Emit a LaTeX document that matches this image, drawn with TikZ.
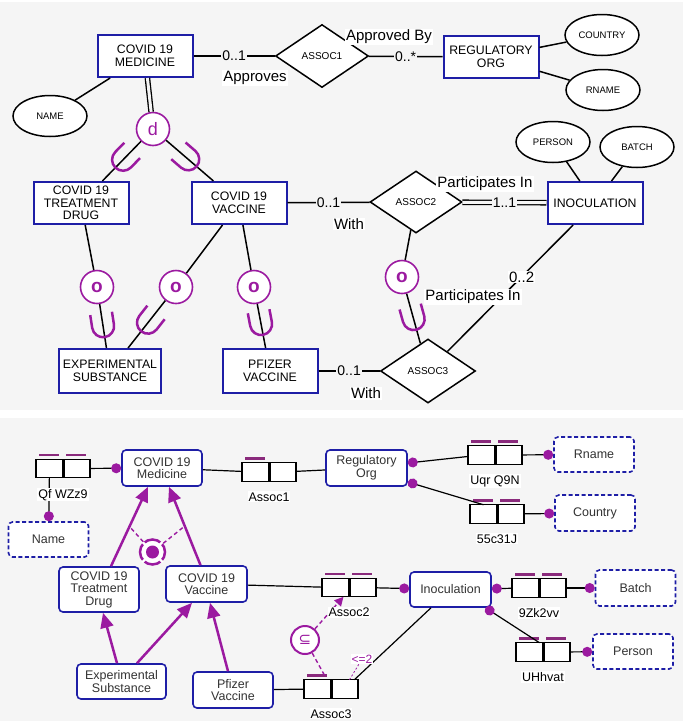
\documentclass[tikz,border=0pt]{standalone}
\usepackage{fontspec}
\setmainfont{Liberation Sans}
\newfontfamily\symfont{DejaVu Sans}
\usepackage{tikz}
\usetikzlibrary{arrows.meta,positioning,shapes.geometric,decorations.markings}
\definecolor{ormblue}{HTML}{1E1EA6}
\definecolor{ormpurple}{HTML}{9B1AA0}
\definecolor{barpurple}{HTML}{8A2A7C}
\definecolor{panelgray}{HTML}{F5F5F5}
\definecolor{textgray}{HTML}{333333}
\tikzset{
    ent/.style={draw=ormblue, line width=2pt, fill=white, minimum width=95pt, minimum height=42pt, inner sep=0pt, align=center, font=\fontsize{12.3}{12.5}\selectfont},
    rel/.style={diamond, draw, line width=1.5pt, fill=white, minimum width=93pt, minimum height=63pt, inner sep=0pt, font=\fontsize{10}{10}\selectfont},
    attr/.style={ellipse, draw, line width=1.5pt, fill=white, minimum width=74pt, minimum height=41pt, inner sep=0pt, font=\fontsize{9.5}{10}\selectfont},
    gen/.style={circle, draw=ormpurple, line width=1.6pt, fill=white, minimum size=33pt, inner sep=0pt, text=ormpurple},
    conn/.style={line width=1.5pt},
    twin/.style={line width=1.3pt, double=panelgray, double distance=3pt},
    mult/.style={fill=panelgray, inner sep=1pt, font=\fontsize{14}{14}\selectfont},
    role/.style={fill=white, inner sep=1pt, font=\fontsize{15}{15}\selectfont},
    subcup/.style={postaction={decorate, decoration={markings, mark=at position #1 with {\draw[ormpurple, line width=2.5pt] (-15pt,11pt) -- (-2pt,11pt) arc[start angle=90, end angle=-90, radius=11pt] -- (-15pt,-11pt);}}}},
    ent2/.style={rounded corners=4pt, draw=ormblue, line width=1.6pt, fill=white, minimum width=80pt, minimum height=36pt, inner sep=0pt, align=center, text=textgray, font=\fontsize{12.5}{12.5}\selectfont},
    val/.style={ent2, dash pattern=on 4pt off 2.5pt},
    cell/.style={draw, line width=1.4pt, fill=white, minimum width=27pt, minimum height=18.5pt, inner sep=0pt, outer sep=0pt},
    divider/.style={line width=3pt},
    keybar/.style={barpurple, line width=2.5pt},
    flabel/.style={fill=white, inner sep=1pt, font=\fontsize{12.5}{12.5}\selectfont},
    link/.style={line width=1.2pt},
    dotend/.style={-{Circle[length=10pt, color=ormpurple]}},
    dotstart/.style={{Circle[length=10pt, color=ormpurple]}-},
    subarrow/.style={ormpurple, line width=2.5pt, -{Triangle[length=15pt, width=13pt]}},
    xordash/.style={ormpurple, line width=1.4pt, dash pattern=on 4pt off 3pt},
    xorc/.style={circle, draw=ormpurple, line width=2.5pt, fill=white, minimum size=25pt, inner sep=0pt},
    subc/.style={circle, draw=ormpurple, line width=2pt, fill=white, minimum size=28pt, inner sep=0pt, text=ormpurple, font=\symfont\fontsize{15}{15}\selectfont},
    limtext/.style={fill=white, inner sep=1pt, text=ormpurple, font=\fontsize{12}{12}\selectfont}
}
\begin{document}
\begin{tikzpicture}[x=1pt, y=-1pt]
    \useasboundingbox (0,0) rectangle (685,721);
    \fill[white] (0,0) rectangle (685,721);
    \fill[panelgray] (0,2) rectangle (683,410);
    \fill[panelgray] (0,418) rectangle (683,721);

    \node[ent] (med) at (145,56) {COVID 19\\MEDICINE};
    \node[ent] (reg) at (491,57) {REGULATORY\\ORG};
    \node[ent] (drug) at (81,203) {COVID 19\\TREATMENT\\DRUG};
    \node[ent] (vac) at (239,203) {COVID 19\\VACCINE};
    \node[ent] (inoc) at (595,203) {INOCULATION};
    \node[ent, minimum width=102pt, minimum height=44pt] (exp) at (110,371) {EXPERIMENTAL\\SUBSTANCE};
    \node[ent, minimum height=44pt] (pfz) at (270,371) {PFIZER\\VACCINE};
    \node[rel] (as1) at (322,56) {ASSOC1};
    \node[rel, minimum width=92pt, minimum height=62pt] (as2) at (416,202) {ASSOC2};
    \node[rel, minimum width=95pt, minimum height=64pt] (as3) at (428,371) {ASSOC3};
    \node[attr] (name) at (50,116) {NAME};
    \node[attr] (country) at (602,35) {COUNTRY};
    \node[attr] (rname) at (603,90) {RNAME};
    \node[attr] (person) at (553,142) {PERSON};
    \node[attr] (batch) at (637,147) {BATCH};
    \node[gen, font=\fontsize{18}{18}\selectfont] (d) at (153,129) {d};
    \foreach \nm/\px/\py in {o1/97/287, o2/176/287, o3/254/287, o4/402/277}
        \node[gen, font=\bfseries\fontsize{19}{19}\selectfont] (\nm) at (\px,\py) {o};

    \draw[conn] (name) -- (med);
    \draw[conn] (med) -- node[mult] {0..1} (as1);
    \draw[conn] (as1) -- node[mult] {0..*} (reg);
    \draw[conn] (reg) -- (country);
    \draw[conn] (reg) -- (rname);
    \draw[twin] (med) -- (d);
    \draw[conn, subcup=0.5] (d) -- (drug);
    \draw[conn, subcup=0.5] (d) -- (vac);
    \draw[conn] (drug) -- (o1);
    \draw[conn, subcup=0.55] (o1) -- (exp);
    \draw[conn] (vac) -- (o2);
    \draw[conn, subcup=0.5] (o2) -- (exp);
    \draw[conn] (vac) -- (o3);
    \draw[conn, subcup=0.5] (o3) -- (pfz);
    \draw[conn] (vac) -- node[mult] {0..1} (as2);
    \draw[twin] (as2) -- node[mult] {1..1} (inoc);
    \draw[conn] (person) -- (inoc);
    \draw[conn] (batch) -- (inoc);
    \draw[conn] (as2) -- (o4);
    \draw[conn, subcup=0.55] (o4) -- (as3);
    \draw[conn] (pfz) -- node[mult] {0..1} (as3);
    \draw[conn] (inoc) -- node[role, pos=0.41] {0..2} (as3);
    \node[role] (apv) at (255,78) {Approves};
    \node[role] (apvby) at (389,37) {Approved By};
    \node[role] (with1) at (349,224) {With};
    \node[role] (part1) at (485,184) {Participates In};
    \node[role] (with2) at (366,393) {With};
    \node[role] (part2) at (473,297) {Participates In};

    \node[ent2] (med2) at (162,468) {COVID 19\\Medicine};
    \node[ent2, minimum width=81pt] (reg2) at (366.5,468) {Regulatory\\Org};
    \node[ent2, minimum height=45pt] (drug2) at (99,589.5) {COVID 19\\Treatment\\Drug};
    \node[ent2, minimum width=81pt] (vac2) at (206.5,584) {COVID 19\\Vaccine};
    \node[ent2, minimum width=89pt, minimum height=35pt] (exp2) at (121.5,681.5) {Experimental\\Substance};
    \node[ent2] (pfz2) at (233,690) {Pfizer\\Vaccine};
    \node[ent2, minimum width=81pt, minimum height=35pt] (inoc2) at (450.5,589.5) {Inoculation};
    \node[val, minimum height=35pt] (name2) at (48.5,539.5) {Name};
    \node[val, minimum height=35pt] (rname2) at (594,454.5) {Rname};
    \node[val] (country2) at (595,513) {Country};
    \node[val] (batch2) at (635.5,588) {Batch};
    \node[val, minimum height=35pt] (person2) at (633,651.5) {Person};
    \foreach \f/\px/\py in {qfw/49.5/468.5, asa/255.5/472, uqr/481.5/455, ccj/483.5/514, asb/335.5/587.5, bzk/525.5/588, uhh/529.5/652, asc/317.5/689} {
        \node[cell] (\f1) at (\px,\py) {};
        \node[cell, right=0pt of \f1] (\f2) {};
        \draw[divider] (\f1.north east) -- (\f1.south east);
    }
    \foreach \c in {qfw1,qfw2,asa1,uqr1,uqr2,ccj1,ccj2,asb1,asb2,bzk1,bzk2,uhh1,uhh2,asc1}
        \draw[keybar] ([xshift=3pt,yshift=4.5pt]\c.north west) -- ([xshift=-4pt,yshift=4.5pt]\c.north east);

    \draw[link, dotend] (qfw2) -- (med2);
    \draw[link, dotend] (qfw1) -- (name2);
    \draw[link] (med2) -- (asa1);
    \draw[link] (asa2) -- (reg2);
    \draw[link, dotstart] ([yshift=5pt]reg2.east) -- (uqr1);
    \draw[link, dotend] (uqr2) -- (rname2);
    \draw[link, dotstart] ([yshift=-14pt]reg2.east) -- (ccj1.north);
    \draw[link, dotend] (ccj2) -- (country2);
    \draw[link] (vac2) -- (asb1);
    \draw[link, dotend] (asb2) -- (inoc2);
    \draw[link, dotstart] (inoc2) -- (bzk1);
    \draw[link, dotend] (bzk2) -- (batch2);
    \draw[link, dotstart] ([xshift=35pt]inoc2.south) -- ([xshift=10pt]uhh1.north);
    \draw[link, dotend] (uhh2) -- (person2);
    \draw[link] (pfz2) -- (asc1);
    \draw[link] (inoc2) -- (asc2);

    \draw[subarrow] ([xshift=12pt]drug2.north) -- coordinate[pos=0.5] (xa) ([xshift=-14pt]med2.south);
    \draw[subarrow] ([xshift=-6pt]vac2.north) -- coordinate[pos=0.5] (xb) ([xshift=7pt]med2.south);
    \draw[subarrow] ([xshift=-4.5pt]exp2.north) -- ([xshift=4pt]drug2.south);
    \draw[subarrow] ([xshift=15.5pt]exp2.north) -- ([xshift=-14.5pt]vac2.south);
    \draw[subarrow] ([xshift=-5pt]pfz2.north) -- ([xshift=3.5pt]vac2.south);
    \node[xorc] (xor) at (152.5,552) {};
    \fill[ormpurple] (xor.center) circle (6.5pt);
    \foreach \a in {45,135,225,315}
        \draw[white, line width=2.2pt] ([shift={(\a:9pt)}]xor.center) -- ([shift={(\a:14.5pt)}]xor.center);
    \draw[xordash] (xor) -- (xa);
    \draw[xordash] (xor) -- (xb);

    \node[subc] (sub) at (305,640) {⊆};
    \draw[xordash, -{Triangle[length=9pt, width=9pt]}] (sub) -- ([xshift=8pt]asb1.south);
    \draw[xordash] (sub) -- ([xshift=7pt,yshift=4.5pt]asc1.north);
    \node[limtext] (lim) at (362,659) {<=2};
    \draw[ormpurple, line width=0.8pt, dash pattern=on 2pt off 2pt] ([xshift=5pt]asc2.north) -- (lim);

    \node[flabel, below=10pt of qfw1.south east] (qfwl) {Qf WZz9};
    \node[flabel, below=10pt of asa1.south east] (asal) {Assoc1};
    \node[flabel, below=10pt of uqr1.south east] (uqrl) {Uqr Q9N};
    \node[flabel, below=10pt of ccj1.south east] (ccjl) {55c31J};
    \node[flabel, below=10pt of asb1.south east] (asbl) {Assoc2};
    \node[flabel, below=10pt of bzk1.south east] (bzkl) {9Zk2vv};
    \node[flabel, below=10pt of uhh1.south east] (uhhl) {UHhvat};
    \node[flabel, below=10pt of asc1.south east] (ascl) {Assoc3};
\end{tikzpicture}
\end{document}
